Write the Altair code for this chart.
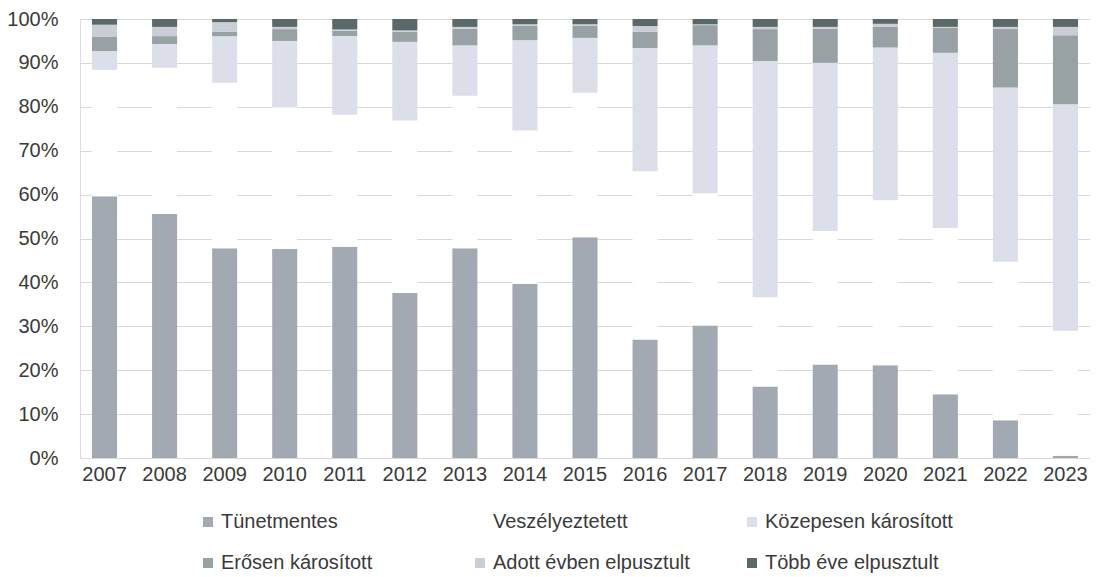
import altair as alt
import pandas as pd

years = [str(y) for y in range(2007, 2024)]
categories = ["Tünetmentes", "Veszélyeztetett", "Közepesen károsított",
              "Erősen károsított", "Adott évben elpusztult", "Több éve elpusztult"]
colors = ["#a3a9b3", "#ffffff", "#dcdfe9", "#98a2a4", "#c8cdd6", "#5b6869"]

tunetmentes = [59.6, 55.6, 47.8, 47.6, 48.1, 37.6, 47.8, 39.7, 50.3, 27.0, 30.2, 16.3, 21.3, 21.1, 14.5, 8.6, 0.5]
veszelyeztetett = [28.8, 33.3, 37.7, 32.3, 30.1, 39.3, 34.7, 34.9, 32.9, 38.3, 30.1, 20.3, 30.4, 37.6, 37.9, 36.1, 28.5]
kozepesen = [4.3, 5.4, 10.6, 15.1, 17.9, 17.9, 11.5, 20.6, 12.5, 28.1, 33.7, 53.8, 38.3, 34.8, 39.9, 39.7, 51.6]
erosen = [3.2, 1.8, 1.0, 2.7, 1.2, 2.3, 3.8, 3.2, 2.7, 3.7, 4.6, 7.3, 7.8, 4.7, 5.7, 13.3, 15.7]
adott = [2.8, 2.1, 2.2, 0.5, 0.3, 0.3, 0.4, 0.4, 0.4, 1.3, 0.2, 0.5, 0.4, 0.7, 0.2, 0.5, 1.9]
tobb = [1.3, 1.8, 0.7, 1.8, 2.4, 2.6, 1.8, 1.2, 1.2, 1.6, 1.2, 1.8, 1.8, 1.1, 1.8, 1.8, 1.8]

series = [tunetmentes, veszelyeztetett, kozepesen, erosen, adott, tobb]
rows = []
for ci, (cat, vals) in enumerate(zip(categories, series)):
    for y, v in zip(years, vals):
        rows.append({"year": y, "category": cat, "value": v, "order": ci})
df = pd.DataFrame(rows)

font = "Liberation Sans"
text_color = "#3a3a3a"

chart = alt.Chart(df).mark_bar().encode(
    x=alt.X("year:N", sort=years, title=None,
            scale=alt.Scale(paddingInner=0.583, paddingOuter=0.2),
            axis=alt.Axis(labelAngle=0, domain=False, ticks=False, labelPadding=6,
                          labelFontSize=20, labelFont=font, labelColor=text_color)),
    y=alt.Y("value:Q", stack="zero", title=None,
            scale=alt.Scale(domain=[0, 100], nice=False),
            axis=alt.Axis(values=list(range(0, 101, 10)), labelExpr="datum.value + '%'",
                          domain=False, ticks=False, labelPadding=22,
                          labelFontSize=20, labelFont=font, labelColor=text_color,
                          gridColor="#d9d9d9", gridWidth=1)),
    color=alt.Color("category:N", sort=categories,
                    scale=alt.Scale(domain=categories, range=colors),
                    legend=alt.Legend(title=None, orient="none", legendX=118, legendY=493,
                                      columns=3, direction="horizontal", gridAlign="all",
                                      columnPadding=52,
                                      rowPadding=21, symbolType="square", symbolSize=100,
                                      symbolStrokeWidth=0, labelOffset=3, padding=0,
                                      labelFontSize=20, labelFont=font, labelColor=text_color,
                                      labelLimit=400)),
    order=alt.Order("order:Q", sort="ascending"),
).properties(
    width=1010, height=439,
    autosize=alt.AutoSizeParams(type="none"),
    padding={"left": 72, "top": 11, "right": 0, "bottom": 119},
).configure_view(stroke=None).configure(background="#ffffff")

chart.save("out.html", embed_options={"renderer": "svg", "actions": False})
